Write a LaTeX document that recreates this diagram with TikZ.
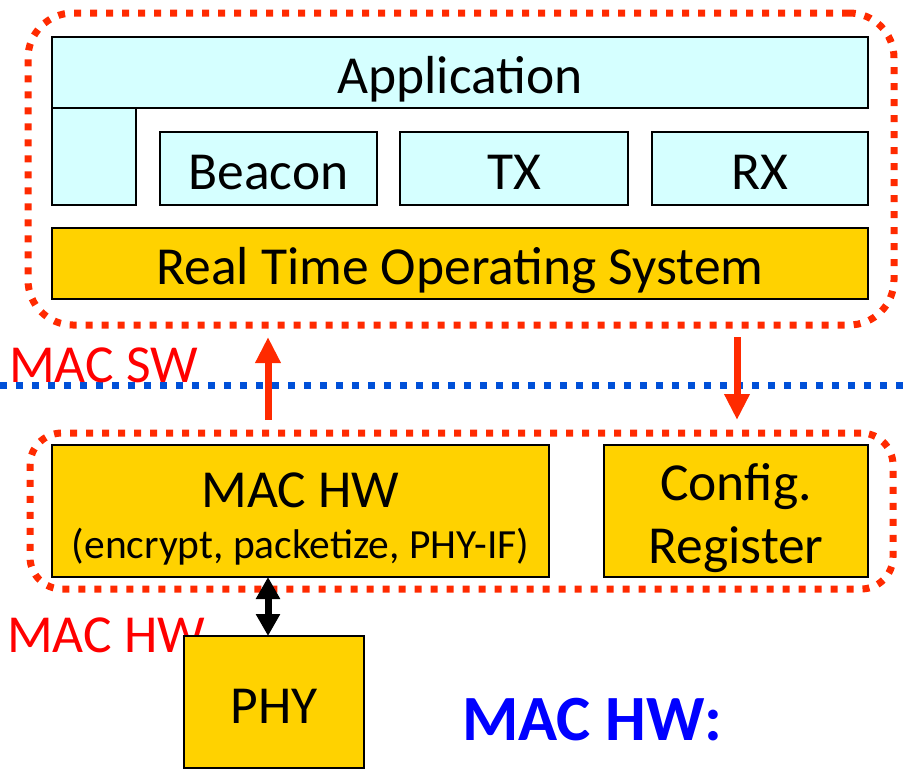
\documentclass[tikz,border=0pt]{standalone}
\usepackage{fontspec}
\setmainfont{Carlito}
\usetikzlibrary{arrows.meta}
\definecolor{skyfill}{HTML}{D5FFFF}
\definecolor{goldfill}{HTML}{FFD200}
\definecolor{dotred}{HTML}{FF2A00}
\definecolor{dotblue}{HTML}{0050D8}
\definecolor{labred}{HTML}{FF0000}
\definecolor{labblue}{HTML}{0000FF}
\begin{document}
\begin{tikzpicture}[x=1pt,y=-1pt,
  layer/.style={draw=black, line width=1.5pt, inner sep=0pt, outer sep=0pt,
    font=\fontsize{53.5}{60}\selectfont, text height=42pt, text depth=0pt},
  swbox/.style={layer, fill=skyfill},
  hwbox/.style={layer, fill=goldfill},
  group/.style={draw=dotred, line width=7pt, dash pattern=on 7pt off 9pt,
    rounded corners=#1, inner sep=0pt, outer sep=0pt},
  boxtext/.style={inner sep=0pt, anchor=base},
  bigtext/.style={font=\fontsize{53.5}{60}\selectfont},
  smalltext/.style={font=\fontsize{41.5}{46}\selectfont},
  sidelabel/.style={inner sep=0pt, anchor=base west, text=labred,
    font=\fontsize{53.5}{60}\selectfont},
  flow/.style={draw=dotred, line width=7pt,
    -{Triangle[width=24pt,length=26pt]}},
  link/.style={draw=black, line width=7pt,
    {Triangle[width=23pt,length=22pt]}-{Triangle[width=23pt,length=22pt]}},
  divider/.style={draw=dotblue, line width=7pt, dash pattern=on 7pt off 9pt}
]
\useasboundingbox (0,0) rectangle (904,772);

% software side
\node[group=45, minimum width=866pt, minimum height=312pt] (swgroup) at (461,169) {};
\node[swbox, minimum width=816pt, minimum height=71pt] (app) at (460,72.5) {Application};
\node[swbox, minimum width=84pt, minimum height=97pt] (appleg) at (94,156.5) {};
\node[swbox, minimum width=217pt, minimum height=73pt] (beacon) at (268.5,168.5) {Beacon};
\node[swbox, minimum width=228pt, minimum height=73pt] (tx) at (514,168.5) {TX};
\node[swbox, minimum width=216pt, minimum height=73pt] (rx) at (760,168.5) {RX};
\node[hwbox, minimum width=816pt, minimum height=71pt] (rtos) at (460,263.5) {Real Time Operating System};

% boundary between software and hardware
\coordinate (divL) at (0,385);
\coordinate (divR) at (904,385);
\draw[divider] (divL) -- (divR);
\node[sidelabel] (swlabel) at (9,382) {MAC SW};

% hardware side
\node[group=32, minimum width=863pt, minimum height=156pt] (hwgroup) at (461.5,511) {};
\node[hwbox, minimum width=497pt, minimum height=132pt] (machw) at (300.5,511) {};
\node[boxtext, bigtext] (machwtitle) at (300.5,507) {MAC HW};
\node[boxtext, smalltext] (machwsub) at (300.5,558) {(encrypt, packetize, PHY-IF)};
\node[hwbox, minimum width=264pt, minimum height=132pt] (config) at (736,511) {};
\node[boxtext, bigtext] (configa) at (736,500) {Config.};
\node[boxtext, bigtext] (configb) at (736,563) {Register};
\node[sidelabel] (hwlabel) at (7,652) {MAC HW};
\node[hwbox, minimum width=180pt, minimum height=132pt] (phy) at (274,702) {PHY};

\node[inner sep=0pt, anchor=base west, text=labblue,
  font=\fontsize{64.5}{72}\selectfont\bfseries] (hwnote) at (462,740) {MAC HW:};

% connectors
\coordinate (upx) at (268,0);
\coordinate (downx) at (737,0);
\draw[flow] ([yshift=13pt]hwgroup.north -| upx) -- ([yshift=-12pt]swgroup.south -| upx);
\draw[flow] ([yshift=-12pt]swgroup.south -| downx) -- ([yshift=13pt]hwgroup.north -| downx);
\draw[link] (machw.south -| upx) -- (phy.north -| upx);
\end{tikzpicture}
\end{document}
